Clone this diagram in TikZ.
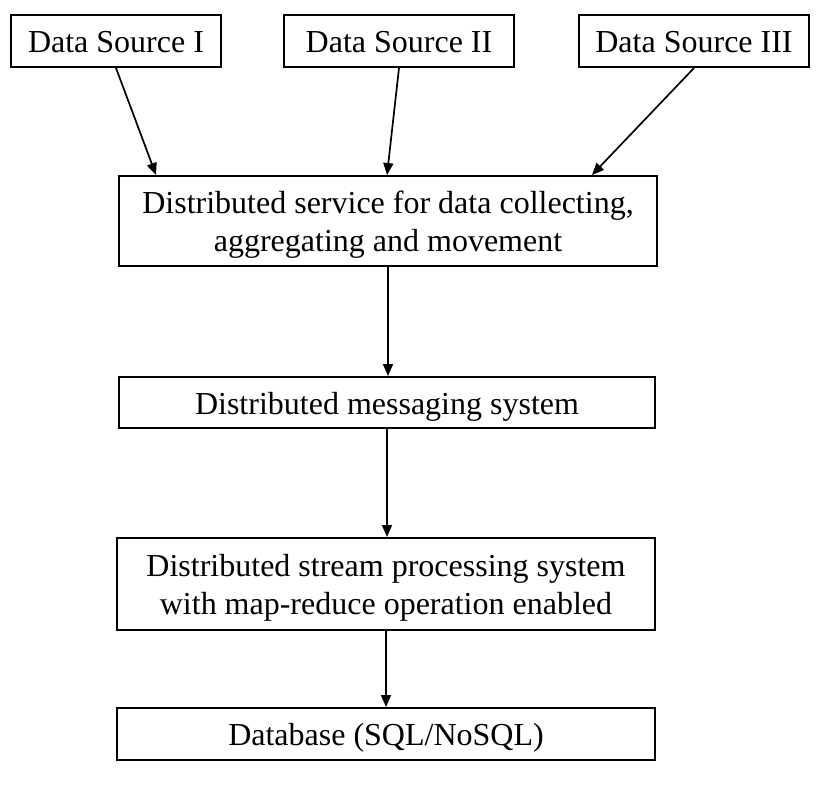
\documentclass[tikz,border=0pt]{standalone}
\usepackage{fontspec}
\setmainfont{Liberation Serif}
\usetikzlibrary{arrows.meta}
\newcommand{\boxtext}[1]{\raisebox{-4pt}[\height][\depth]{\begin{tabular}{@{}c@{}}#1\end{tabular}}}
\begin{document}
\begin{tikzpicture}[x=1pt,y=-1pt,
  box/.style={draw=black,line width=2pt,inner sep=0pt,align=center,
    font=\fontsize{32}{38}\selectfont},
  conn/.style={line width=1.7pt,-{Triangle[length=12pt,width=10pt]}}]
\useasboundingbox (0,0) rectangle (828,790);
\node[box,minimum width=210pt,minimum height=52pt] (ds1) at (116,41) {\boxtext{Data Source I}};
\node[box,minimum width=230pt,minimum height=52pt] (ds2) at (399,41) {\boxtext{Data Source II}};
\node[box,minimum width=230pt,minimum height=52pt] (ds3) at (694,41) {\boxtext{Data Source III}};
\node[box,minimum width=538pt,minimum height=90pt] (svc) at (388,221)
  {\boxtext{Distributed service for data collecting,\\aggregating and movement}};
\node[box,minimum width=536pt,minimum height=51pt] (msg) at (387,402.5)
  {\boxtext{Distributed messaging system}};
\node[box,minimum width=538pt,minimum height=92pt] (sps) at (386,584)
  {\boxtext{Distributed stream processing system\\with map-reduce operation enabled}};
\node[box,minimum width=538pt,minimum height=52pt] (db) at (386,734)
  {\boxtext{Database (SQL/NoSQL)}};
\draw[conn] (ds1.south) -- ([xshift=38pt]svc.north west);
\draw[conn] (ds2.south) -- ([xshift=-1pt]svc.north);
\draw[conn] (ds3.south) -- ([xshift=-66pt]svc.north east);
\draw[conn] (svc.south) -- (svc.south |- msg.north);
\draw[conn] (msg.south) -- (msg.south |- sps.north);
\draw[conn] (sps.south) -- (sps.south |- db.north);
\end{tikzpicture}
\end{document}
